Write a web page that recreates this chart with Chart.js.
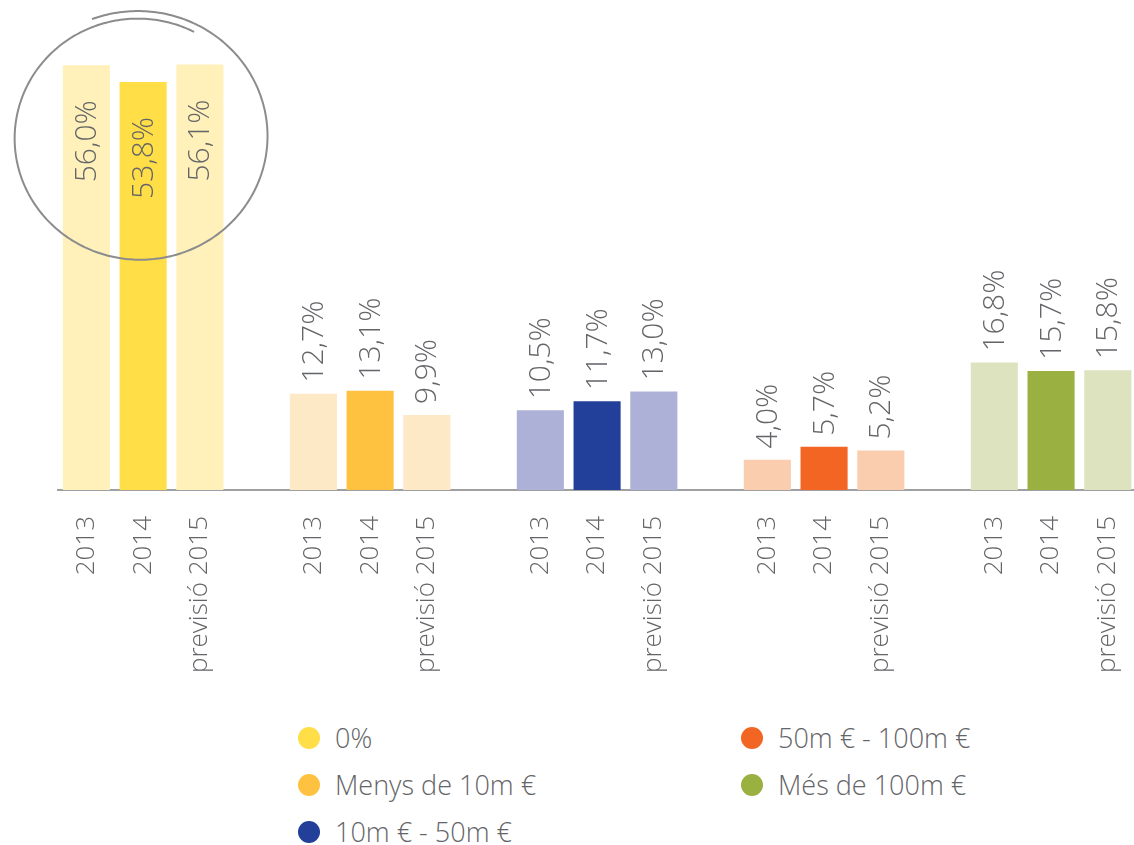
<!DOCTYPE html>
<html>
<head>
<meta charset="utf-8">
<script src="https://cdn.jsdelivr.net/npm/chart.js@4.4.0/dist/chart.umd.min.js"></script>
<style>
  body { margin: 0; background: #fff; overflow: hidden; font-family: "Open Sans", sans-serif; }
  #chartBox { position: absolute; left: 0; top: 0; width: 1165px; height: 700px; }
  .legend { position: absolute; color: #646568; font-size: 27px; font-weight: 300; }
  .legendItem { position: absolute; white-space: nowrap; height: 30px; line-height: 30px; }
  .dot { position: absolute; width: 22px; height: 22px; border-radius: 50%; top: 4px; }
</style>
</head>
<body>
<div id="chartBox"><canvas id="myChart"></canvas></div>
<div id="legend" class="legend"></div>

<script>
let labels = ["2013", "2014", "previsió 2015", "", "2013", "2014", "previsió 2015", "", "2013", "2014", "previsió 2015", "", "2013", "2014", "previsió 2015", "", "2013", "2014", "previsió 2015"];
let values = [56.0, 53.8, 56.1, null, 12.7, 13.1, 9.9, null, 10.5, 11.7, 13.0, null, 4.0, 5.7, 5.2, null, 16.8, 15.7, 15.8];

let groups = [
  { name: "0%", dark: "#ffde47", light: "#fff1b9" },
  { name: "Menys de 10m €", dark: "#ffc240", light: "#fde9c5" },
  { name: "10m € - 50m €", dark: "#22409a", light: "#aeb1d7" },
  { name: "50m € - 100m €", dark: "#f26522", light: "#facdae" },
  { name: "Més de 100m €", dark: "#9ab142", light: "#dde3be" },
];

let textColor = "#646568";

function barColors() {
  let colors = [];
  for (let i = 0; i < labels.length; i++) {
    let group = groups[Math.floor(i / 4)];
    let pos = i % 4;
    if (pos == 1) colors.push(group.dark);
    else colors.push(group.light);
  }
  return colors;
}

// value labels written vertically above (or inside) each bar
const valueLabels = {
  id: "valueLabels",
  afterDatasetsDraw(chart) {
    let ctx = chart.ctx;
    let meta = chart.getDatasetMeta(0);
    ctx.save();
    ctx.fillStyle = textColor;
    ctx.font = "300 30px 'Open Sans'";
    ctx.textBaseline = "middle";
    meta.data.forEach((bar, i) => {
      let v = values[i];
      if (v == null) return;
      let text = v.toFixed(1).replace(".", ",") + "%";
      ctx.save();
      if (v > 40) {
        ctx.translate(bar.x, bar.y + 35);
        ctx.rotate(-Math.PI / 2);
        ctx.textAlign = "right";
      } else {
        ctx.translate(bar.x, bar.y - 11);
        ctx.rotate(-Math.PI / 2);
        ctx.textAlign = "left";
      }
      ctx.fillText(text, 0, 1);
      ctx.restore();
    });
    ctx.restore();
  },
};

// hand drawn circle round the first group
const handCircle = {
  id: "handCircle",
  afterDraw(chart) {
    let ctx = chart.ctx;
    let cx = chart.scales.x.getPixelForValue(1) - 4;
    let cy = chart.scales.y.getPixelForValue(46.5);
    ctx.save();
    ctx.strokeStyle = "#8c8c8f";
    ctx.lineWidth = 2;
    ctx.beginPath();
    let start = -1.94;
    let end = 5.19;
    for (let a = start; a <= end; a += 0.02) {
      let k = (a - start) / (end - start);
      let s = 1.03 - 0.07 * k;
      let x = cx + 127 * s * Math.cos(a);
      let y = cy + 123 * s * Math.sin(a);
      if (a == start) ctx.moveTo(x, y);
      else ctx.lineTo(x, y);
    }
    ctx.stroke();
    ctx.restore();
  },
};

function loadChart() {
  const ctx = document.getElementById("myChart");
  new Chart(ctx, {
    type: "bar",
    data: {
      labels: labels,
      datasets: [
        {
          data: values,
          backgroundColor: barColors(),
          barPercentage: 0.83,
          categoryPercentage: 1,
        },
      ],
    },
    options: {
      responsive: true,
      maintainAspectRatio: false,
      animation: false,
      layout: { padding: { left: 58, top: 0, right: 0, bottom: 0 } },
      scales: {
        x: {
          grid: { display: false, drawTicks: false },
          border: { color: "#a0a0a3", width: 2 },
          ticks: {
            autoSkip: false,
            minRotation: 90,
            maxRotation: 90,
            padding: 26,
            color: textColor,
            font: { family: "'Open Sans'", size: 26, weight: 300 },
          },
          afterFit: (scale) => {
            scale.height = 210;
          },
        },
        y: {
          display: false,
          min: 0,
          max: 64.6,
        },
      },
      plugins: {
        legend: { display: false },
        tooltip: { enabled: false },
      },
    },
    plugins: [valueLabels, handCircle],
  });
}

function loadLegend() {
  let legend = document.getElementById("legend");
  let spots = [
    [298, 723], [298, 770], [298, 817],
    [741, 723], [741, 770],
  ];
  for (let i = 0; i < groups.length; i++) {
    legend.innerHTML += `
    <div class="legendItem" style="left:${spots[i][0]}px; top:${spots[i][1]}px;">
      <span class="dot" style="left:0; background-color:${groups[i].dark}"></span>
      <span style="position:absolute; left:37px;">${groups[i].name}</span>
    </div>`;
  }
}

loadChart();
loadLegend();
</script>
</body>
</html>
